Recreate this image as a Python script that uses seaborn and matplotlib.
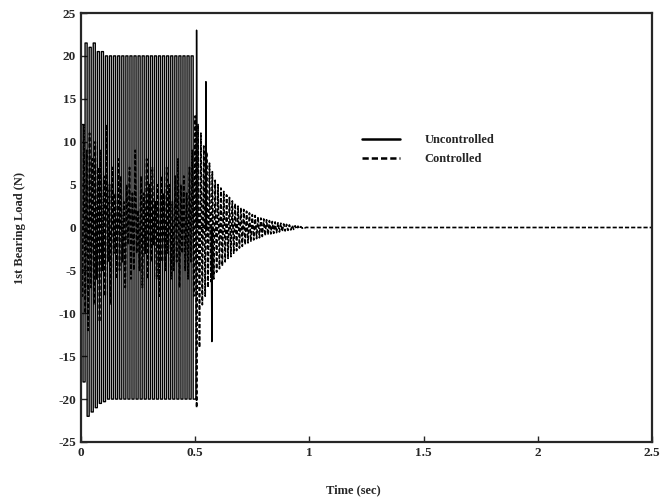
import numpy as np
import pandas as pd
import matplotlib
matplotlib.use("Agg")
import matplotlib.pyplot as plt
import seaborn as sns

# ---------------- data ----------------
# Uncontrolled: saturated oscillation 0..0.5 s (alternating peaks)
unc_box_peaks = [12, -18, 21.5, -22, 21, -21.5, 21.5, -21, 20.5, -20.5, 20.5, -20.3,
                 20, -20, 20, -20, 20, -20, 20, -20, 20, -20, 20, -20,
                 20, -20, 20, -20, 20, -20, 20, -20, 20, -20, 20, -20,
                 20, -20, 20, -20, 20, -20, 20, -20, 20, -20, 20, -20,
                 20, -20, 20, -20, 20, -20, 20, -20]
unc_box_end = 0.5
# Uncontrolled spikes just after 0.5 s
unc_post_t = [0.503, 0.506, 0.509, 0.544, 0.547, 0.550, 0.570, 0.573, 0.576]
unc_post_y = [-20.0, 23.0, 0.0, 0.0, 17.0, 0.0, 0.0, -13.3, 0.0]

# Controlled: alternating peaks, half period below
ctrl_half_period = 0.00625
ctrl_pre_peaks = [3, -8, 12, -10, 9, -12, 11, -7, 8, -9, 10, -6, 7, -11, 9, -5, 6, -8, 12, -4,
                  5, -9, 7, -3, 4, -6, 8, -5, 6, -4, 3, -7, 5, -2, 7, -6, 4, -5, 9, -3,
                  2, -5, 6, -7, 4, -3, 8, -6, 5, -4, 7, -2, 3, -6, 5, -8, 6, -4, 4, -5,
                  7, -3, 5, -6, 3, -5, 6, -4, 8, -7, 5, -3, 6, -5, 4, -6, 7, -4, 9, -8]
ctrl_post_peaks = [13, -21, 12, -14, 11, -9, 9.5, -8, 8.8, -7, 7.5, -6.3, 6.5, -6, 5.5, -5.2, 5, -4.8, 4.6, -4.5,
                   4.2, -4, 3.8, -3.6, 3.5, -3.4, 3.1, -3, 2.8, -2.7, 2.5, -2.4, 2.3, -2.2, 2.1, -2, 1.9, -1.8, 1.7, -1.6,
                   1.5, -1.45, 1.4, -1.3, 1.25, -1.2, 1.1, -1.05, 1.0, -0.95, 0.9, -0.85, 0.8, -0.75, 0.7, -0.68, 0.65, -0.6, 0.55, -0.52,
                   0.5, -0.46, 0.42, -0.4, 0.36, -0.33, 0.3, -0.28, 0.25, -0.22, 0.2, -0.18, 0.15, -0.13, 0.1, -0.08, 0.06, -0.04, 0.02, 0.0]
ctrl_tail_t = [2.5]
ctrl_tail_y = [0.0]

series_names = ["Uncontrolled", "Controlled"]
x_ticks = [0, 0.5, 1, 1.5, 2, 2.5]
x_tick_labels = ["0", "0.5", "1", "1.5", "2", "2.5"]
y_ticks = [-25, -20, -15, -10, -5, 0, 5, 10, 15, 20, 25]

# ---------------- build series ----------------
n = len(unc_box_peaks)
ut = [k * unc_box_end / n for k in range(n)]
ux, uy = [0.0], [0.0]
prev = 0.0
for t, p in zip(ut, unc_box_peaks):
    ux += [t, t]
    uy += [prev, p]
    prev = p
ux += [unc_box_end]
uy += [prev]
ux += unc_post_t
uy += unc_post_y
unc_df = pd.DataFrame({"t": ux, "y": uy})

cp = ctrl_pre_peaks + ctrl_post_peaks
ct = [k * ctrl_half_period for k in range(len(cp))]
ctrl_df = pd.DataFrame({"t": ct + ctrl_tail_t, "y": cp + ctrl_tail_y})

# ---------------- plot ----------------
sns.set_style("ticks")
plt.rcParams["font.family"] = ["Liberation Serif", "DejaVu Serif"]
plt.rcParams["font.weight"] = "bold"
plt.rcParams["axes.unicode_minus"] = False

fig = plt.figure(figsize=(6.62, 5.01), dpi=100)
ax = fig.add_axes([81 / 662, 59 / 501, 571 / 662, 429 / 501])

sns.lineplot(data=unc_df, x="t", y="y", sort=False, estimator=None, ax=ax,
             color="black", linewidth=1.0, label=series_names[0])
sns.lineplot(data=ctrl_df, x="t", y="y", sort=False, estimator=None, ax=ax,
             color="black", linewidth=1.2, dashes=False, label=series_names[1])
ax.lines[1].set_dashes([2.5, 1.2])

ax.set_xlim(0, 2.5)
ax.set_ylim(-25, 25)
ax.set_xticks(x_ticks)
ax.set_xticklabels(x_tick_labels)
ax.set_yticks(y_ticks)
ax.tick_params(direction="in", length=4, width=1, labelsize=9.5)
for lab in ax.get_xticklabels() + ax.get_yticklabels():
    lab.set_fontweight("bold")
for s in ax.spines.values():
    s.set_visible(True)
    s.set_linewidth(1.6)

ax.set_xlabel("")
ax.set_ylabel("")
fig.text(353 / 662, 1 - 490 / 501, "Time (sec)", ha="center", va="center",
         fontsize=9, fontweight="bold")
fig.text(20 / 662, 1 - 228 / 501, "1st Bearing Load (N)", ha="center", va="center",
         rotation=90, fontsize=9, fontweight="bold")

leg = ax.legend(loc="upper left", bbox_to_anchor=(362 / 662, 1 - 134 / 501),
                bbox_transform=fig.transFigure, frameon=False, fontsize=9,
                handlelength=3, handletextpad=2.0, labelspacing=0.55,
                borderpad=0, borderaxespad=0)
for h in leg.get_lines():
    h.set_linewidth(1.8)
for tx in leg.get_texts():
    tx.set_fontweight("bold")

fig.savefig("out.png", dpi=100)
